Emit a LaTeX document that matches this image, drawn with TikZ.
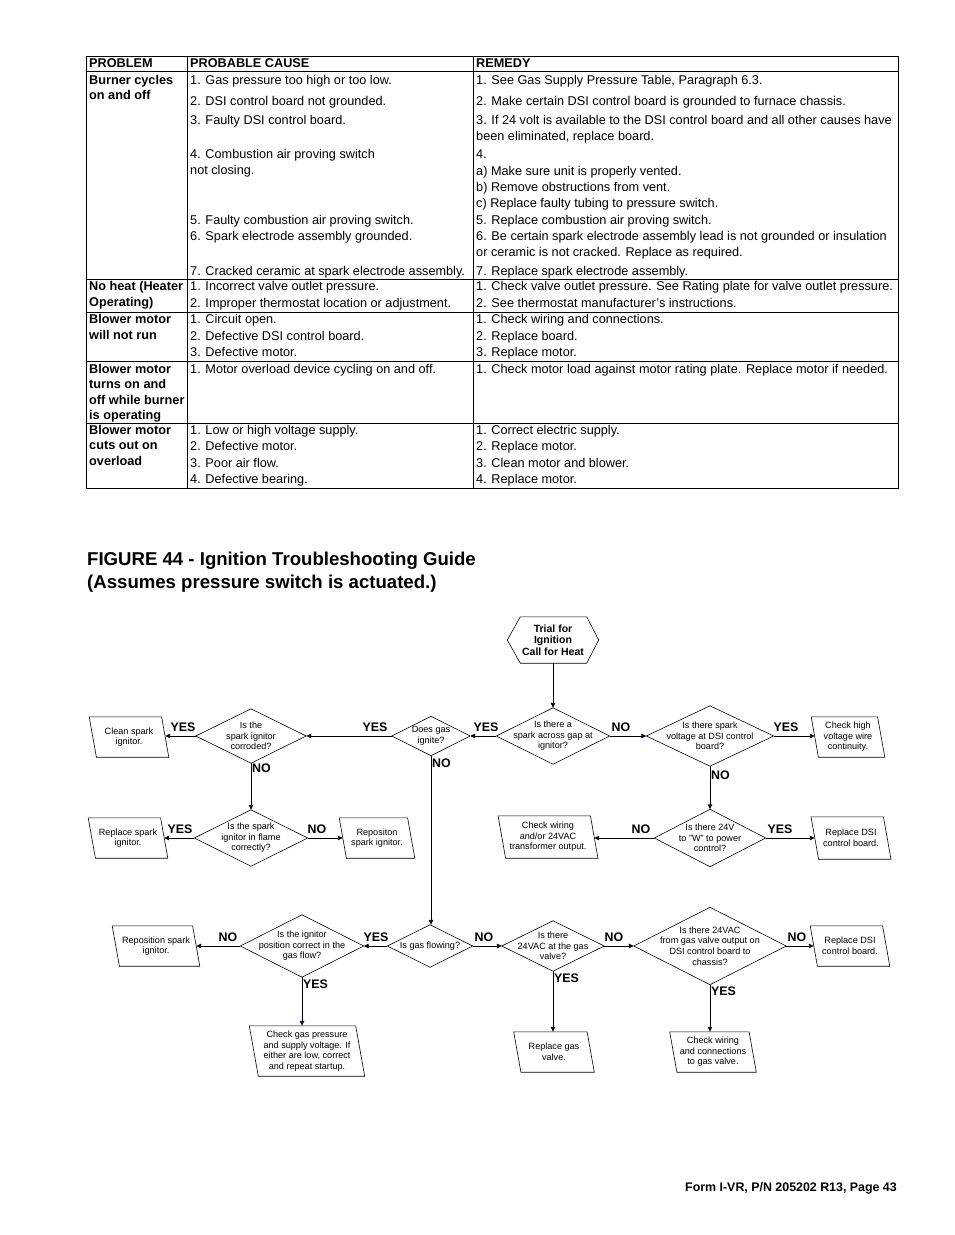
\documentclass[tikz,border=0pt]{standalone}
\usepackage{fontspec}
\setmainfont{Liberation Sans}
\usetikzlibrary{arrows.meta}
\definecolor{tipblue}{RGB}{20,20,110}
\newcommand\dmd[6]{%
  \node[dtext, minimum width=#4pt, minimum height=#5pt] (#1) at (#2,#3) {#6};
  \draw[shapeline] (#1.north) -- (#1.east) -- (#1.south) -- (#1.west) -- cycle;}
\newcommand\pbx[6]{%
  \node[dtext, minimum width=#4pt, minimum height=#5pt] (#1) at (#2,#3) {#6};
  \draw[shapeline] ([xshift={-0.09*#5*1pt}]#1.north west) -- ([xshift={-0.09*#5*1pt}]#1.north east)
     -- ([xshift={0.09*#5*1pt}]#1.south east) -- ([xshift={0.09*#5*1pt}]#1.south west) -- cycle;}
\begin{document}
\begin{tikzpicture}[x=1pt,y=-1pt,
  cell/.style={anchor=base west, inner sep=0pt, font=\fontsize{12.7}{14}\selectfont},
  pcell/.style={anchor=base west, inner sep=0pt, align=left, font=\fontsize{12.7}{15.4}\selectfont\bfseries},
  hcell/.style={anchor=base west, inner sep=0pt, font=\fontsize{12.7}{14}\selectfont\bfseries},
  tline/.style={line width=0.9pt},
  dtext/.style={font=\fontsize{9.1}{10.6}\selectfont, align=center, inner sep=0pt},
  shapeline/.style={line width=0.6pt},
  lab/.style={font=\fontsize{12.4}{14}\selectfont\bfseries, inner sep=0pt},
  arr/.style={line width=0.9pt, -{Triangle[length=5pt,width=4.5pt,fill=tipblue]}}
]
\useasboundingbox (0,0) rectangle (954,1235);
% ---------------- table ----------------
\draw[tline] (86,56) rectangle (898,488);
\draw[tline] (187,56) -- (187,488);
\draw[tline] (473,56) -- (473,488);
\foreach \yy in {71,279,312,361,423} \draw[tline] (86,\yy) -- (898,\yy);
\node[hcell] (h1) at (89,67.5) {PROBLEM};
\node[hcell] (h2) at (190,67.5) {PROBABLE CAUSE};
\node[hcell] (h3) at (476,67.5) {REMEDY};
% multi-line cells: base anchor = baseline of the last line
\node[pcell] (p1) at (89,99.9) {Burner cycles\\on and off};
\node[pcell] (p2) at (89,306.0) {No heat (Heater\\Operating)};
\node[pcell] (p3) at (89,339.0) {Blower motor\\will not run};
\node[pcell] (p4) at (89,419.5) {Blower motor\\turns on and\\off while burner\\is operating};
\node[pcell] (p5) at (89,465.3) {Blower motor\\cuts out on\\overload};
\foreach \yy/\tt [count=\i] in {
  80/{1. Gas pressure too high or too low.},
  101/{2. DSI control board not grounded.},
  120/{3. Faulty DSI control board.},
  154/{4. Combustion air proving switch},
  170/{not closing.},
  220/{5. Faulty combustion air proving switch.},
  236/{6. Spark electrode assembly grounded.},
  271/{7. Cracked ceramic at spark electrode assembly.},
  286/{1. Incorrect valve outlet pressure.},
  303/{2. Improper thermostat location or adjustment.},
  319/{1. Circuit open.},
  336/{2. Defective DSI control board.},
  352/{3. Defective motor.},
  369/{1. Motor overload device cycling on and off.},
  430/{1. Low or high voltage supply.},
  446/{2. Defective motor.},
  463/{3. Poor air flow.},
  479/{4. Defective bearing.}}
  \node[cell] (c\i) at (190,{\yy+4.5}) {\tt};
\foreach \yy/\tt [count=\i] in {
  80/{1. See Gas Supply Pressure Table, Paragraph 6.3.},
  101/{2. Make certain DSI control board is grounded to furnace chassis.},
  120/{3. If 24 volt is available to the DSI control board and all other causes have},
  136/{been eliminated, replace board.},
  154/{4.},
  171/{a) Make sure unit is properly vented.},
  187/{b) Remove obstructions from vent.},
  203/{c) Replace faulty tubing to pressure switch.},
  220/{5. Replace combustion air proving switch.},
  236/{6. Be certain spark electrode assembly lead is not grounded or insulation},
  252/{or ceramic is not cracked. Replace as required.},
  271/{7. Replace spark electrode assembly.},
  286/{1. Check valve outlet pressure. See Rating plate for valve outlet pressure.},
  303/{2. See thermostat manufacturer’s instructions.},
  319/{1. Check wiring and connections.},
  336/{2. Replace board.},
  352/{3. Replace motor.},
  369/{1. Check motor load against motor rating plate. Replace motor if needed.},
  430/{1. Correct electric supply.},
  446/{2. Replace motor.},
  463/{3. Clean motor and blower.},
  479/{4. Replace motor.}}
  \node[cell] (r\i) at (476,{\yy+4.5}) {\tt};
% ---------------- title ----------------
\node[anchor=base west, inner sep=0pt, font=\fontsize{18.6}{22}\selectfont\bfseries] (title1) at (87,565) {FIGURE 44 - Ignition Troubleshooting Guide};
\node[anchor=base west, inner sep=0pt, font=\fontsize{18.6}{22}\selectfont\bfseries] (title2) at (87,588) {(Assumes pressure switch is actuated.)};
\node[anchor=base east, inner sep=0pt, font=\fontsize{12.4}{14}\selectfont\bfseries] (foot) at (897,1191.5) {Form I-VR, P/N 205202 R13, Page 43};
% ---------------- flowchart ----------------
\node[inner sep=0pt, minimum width=91pt, minimum height=46pt, align=center, font=\fontsize{10.5}{11.5}\selectfont\bfseries] (hex) at (553,640) {Trial for\\Ignition\\Call for Heat};
\draw[shapeline] (hex.west) -- ([xshift=13pt]hex.north west) -- ([xshift=-12pt]hex.north east) -- (hex.east)
  -- ([xshift=-12pt]hex.south east) -- ([xshift=13pt]hex.south west) -- cycle;
\dmd{d1}{553}{736}{113}{56}{Is there a\\spark across gap at\\ignitor?}
\dmd{d2}{710}{736}{127}{60}{Is there spark\\voltage at DSI control\\board?}
\dmd{d3}{710}{838}{111}{57}{Is there 24V\\to "W" to power\\control?}
\dmd{d4}{431}{736}{78}{39}{Does gas\\ignite?}
\dmd{d5}{251}{736}{110}{54}{Is the\\spark ignitor\\corroded?}
\dmd{d6}{251}{838}{113}{56}{Is the spark\\ignitor in flame\\correctly?}
\dmd{d7}{430}{946}{85}{42}{Is gas flowing?}
\dmd{d8}{302}{946}{123}{62}{Is the ignitor\\position correct in the\\gas flow?}
\dmd{d9}{553}{946}{102}{50}{Is there\\24VAC at the gas\\valve?}
\dmd{d10}{710}{946}{152}{77}{Is there 24VAC\\from gas valve output on\\DSI control board to\\chassis?}
\pbx{cleanB}{129}{737}{72}{40}{Clean spark\\ignitor.}
\pbx{hvB}{848}{737}{66}{40}{Check high\\voltage wire\\continuity.}
\pbx{replB}{128}{838}{72}{40}{Replace spark\\ignitor.}
\pbx{reposB}{377}{838}{68}{40}{Repositon\\spark ignitor.}
\pbx{chkwB}{548}{837}{92}{42}{Check wiring\\and/or 24VAC\\transformer output.}
\pbx{dsiB}{851}{838}{72}{42}{Replace DSI\\control board.}
\pbx{reposTwoB}{156}{946}{80}{40}{Reposition spark\\ignitor.}
\pbx{gasB}{307}{1051}{106}{50}{Check gas pressure\\and supply voltage. If\\either are low, correct\\and repeat startup.}
\pbx{dsiTwoB}{850}{946}{72}{40}{Replace DSI\\control board.}
\pbx{valveB}{554}{1052}{73}{40}{Replace gas\\valve.}
\pbx{wireB}{713}{1052}{79}{40}{Check wiring\\and connections\\to gas valve.}
% connectors
\draw[arr] (hex.south) -- (d1.north);
\draw[arr] (d1.west) -- (d4.east);
\draw[arr] (d1.east) -- (d2.west);
\draw[arr] (d2.east) -- (d2.east -| hvB.west);
\draw[arr] (d2.south) -- (d3.north);
\draw[arr] (d3.east) -- (d3.east -| dsiB.west);
\draw[arr] (d3.west) -- (d3.west -| chkwB.east);
\draw[arr] (d4.west) -- (d5.east);
\draw[arr] (d4.south) -- (d4.south |- d7.north);
\draw[arr] (d5.west) -- (d5.west -| cleanB.east);
\draw[arr] (d5.south) -- (d6.north);
\draw[arr] (d6.west) -- (d6.west -| replB.east);
\draw[arr] (d6.east) -- (d6.east -| reposB.west);
\draw[arr] (d7.west) -- (d8.east);
\draw[arr] (d7.east) -- (d9.west);
\draw[arr] (d8.west) -- (d8.west -| reposTwoB.east);
\draw[arr] (d8.south) -- (d8.south |- gasB.north);
\draw[arr] (d9.east) -- (d10.west);
\draw[arr] (d9.south) -- (d9.south |- valveB.north);
\draw[arr] (d10.east) -- (d10.east -| dsiTwoB.west);
\draw[arr] (d10.south) -- (d10.south |- wireB.north);
% labels
\node[lab] (l1) at (183,727) {YES};
\node[lab] (l2) at (375,727) {YES};
\node[lab] (l3) at (486,727) {YES};
\node[lab] (l4) at (621,727) {NO};
\node[lab] (l5) at (786,727) {YES};
\node[lab, anchor=west] (l6) at (252,768) {NO};
\node[lab, anchor=west] (l7) at (432,763) {NO};
\node[lab, anchor=west] (l8) at (711,775) {NO};
\node[lab] (l9) at (180,829) {YES};
\node[lab] (l10) at (317,829) {NO};
\node[lab] (l11) at (641,829) {NO};
\node[lab] (l12) at (780,829) {YES};
\node[lab] (l13) at (228,937) {NO};
\node[lab] (l14) at (376,937) {YES};
\node[lab] (l15) at (484,937) {NO};
\node[lab] (l16) at (614,937) {NO};
\node[lab] (l17) at (797,937) {NO};
\node[lab, anchor=west] (l18) at (303,984) {YES};
\node[lab, anchor=west] (l19) at (554,978) {YES};
\node[lab, anchor=west] (l20) at (711,991) {YES};
\end{tikzpicture}
\end{document}
